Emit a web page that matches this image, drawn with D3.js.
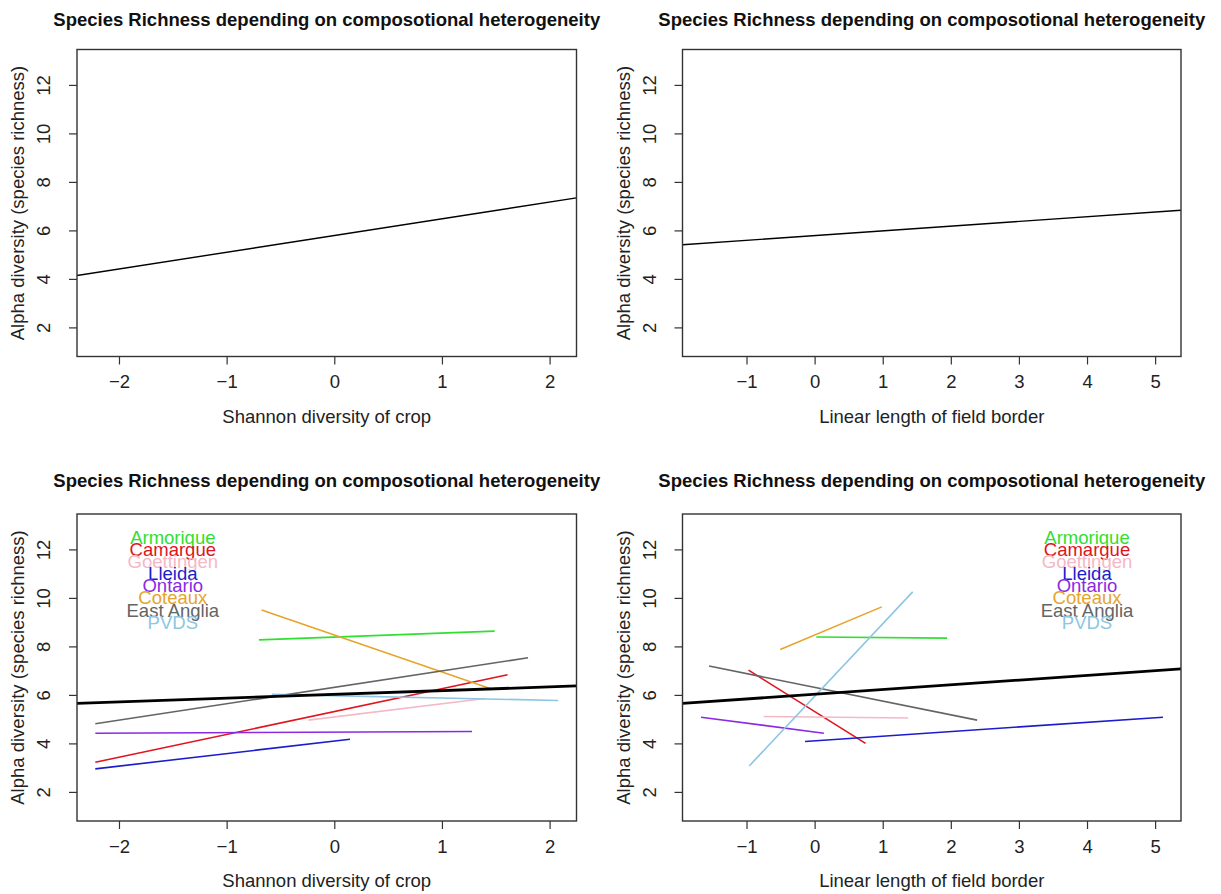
<!DOCTYPE html>
<html>
<head>
<meta charset="utf-8">
<script src="https://cdn.jsdelivr.net/npm/d3@7"></script>
<style>
  html, body { margin: 0; padding: 0; background: #fff; }
  svg { display: block; font-family: "Liberation Sans", Arial, Helvetica, sans-serif; }
</style>
</head>
<body>
<svg id="chart" width="1221" height="894"></svg>
<script>
// ---------------- DATA ----------------
const titleText = "Species Richness depending on composotional heterogeneity";
const yLabel = "Alpha diversity (species richness)";
const cropLabel = "Shannon diversity of crop";
const borderLabel = "Linear length of field border";

const cropTicks = [-2, -1, 0, 1, 2];
const borderTicks = [-1, 0, 1, 2, 3, 4, 5];
const yTicks = [2, 4, 6, 8, 10, 12];

const sites = ["Armorique", "Camargue", "Goettingen", "Lleida", "Ontario", "Coteaux", "East Anglia", "PVDS"];
const siteColors = ["#2fe02f", "#e0141e", "#f5b8c6", "#1c1ccc", "#8a2be2", "#e6a42c", "#646464", "#8cc6e2"];

// top panels: overall fitted line (two end points)
const topCropX = [-2.39, 2.25];
const topCropY = [4.14, 7.34];
const topBorderX = [-1.94, 5.38];
const topBorderY = [5.41, 6.83];

// bottom-left: per-site lines vs Shannon diversity of crop
const cropX0 = [-0.70, -2.22, -0.24, -2.22, -2.22, -0.675, -2.22, -0.58];
const cropX1 = [1.49, 1.61, 1.40, 0.146, 1.28, 1.46, 1.80, 2.08];
const cropY0 = [8.27, 3.22, 4.96, 2.95, 4.42, 9.50, 4.81, 6.02];
const cropY1 = [8.63, 6.83, 5.85, 4.17, 4.49, 6.24, 7.53, 5.77];
const overallCropX = [-2.39, 2.25];
const overallCropY = [5.65, 6.37];

// bottom-right: per-site lines vs linear length of field border
const borderX0 = [0.025, -0.97, -0.75, -0.141, -1.668, -0.505, -1.55, -0.96];
const borderX1 = [1.946, 0.748, 1.375, 5.115, 0.136, 0.986, 2.386, 1.44];
const borderY0 = [8.39, 7.02, 5.11, 4.08, 5.08, 7.87, 7.19, 3.07];
const borderY1 = [8.34, 4.00, 5.05, 5.08, 4.42, 9.63, 4.96, 10.25];
const overallBorderX = [-1.94, 5.38];
const overallBorderY = [5.65, 7.07];

// legend anchor (data coordinates) and value step
const legendCropX = -1.5;
const legendBorderX = 4.0;
const legendTopY = 12.5;
const legendStep = 0.5;

// ---------------- LAYOUT ----------------
const svg = d3.select("#chart");
const FS = 18.5;
const yDomain = [0.80, 13.46];

const panels = [
  { box: [77, 49.5, 576.5, 356.5], titleY: 20, xDomain: [-2.39, 2.25], ticks: cropTicks, xlab: cropLabel,
    main: { x: topCropX, y: topCropY, w: 1.4 } },
  { box: [682.5, 49.5, 1181, 356.5], titleY: 20, xDomain: [-1.94, 5.38], ticks: borderTicks, xlab: borderLabel,
    main: { x: topBorderX, y: topBorderY, w: 1.4 } },
  { box: [77, 514, 576.5, 821], titleY: 481, xDomain: [-2.39, 2.25], ticks: cropTicks, xlab: cropLabel,
    sites: { x0: cropX0, x1: cropX1, y0: cropY0, y1: cropY1 }, legendX: legendCropX,
    main: { x: overallCropX, y: overallCropY, w: 2.8 } },
  { box: [682.5, 514, 1181, 821], titleY: 481, xDomain: [-1.94, 5.38], ticks: borderTicks, xlab: borderLabel,
    sites: { x0: borderX0, x1: borderX1, y0: borderY0, y1: borderY1 }, legendX: legendBorderX,
    main: { x: overallBorderX, y: overallBorderY, w: 2.8 } }
];

const fmt = d => (d < 0 ? "\u2212" + Math.abs(d) : String(d));

panels.forEach((p, i) => {
  const [x0, y0, x1, y1] = p.box;
  const x = d3.scaleLinear().domain(p.xDomain).range([x0, x1]);
  const y = d3.scaleLinear().domain(yDomain).range([y1, y0]);
  const g = svg.append("g");

  // clip
  const cid = "clip" + i;
  svg.append("clipPath").attr("id", cid).append("rect")
    .attr("x", x0).attr("y", y0).attr("width", x1 - x0).attr("height", y1 - y0);

  // title
  g.append("text").attr("x", (x0 + x1) / 2).attr("y", p.titleY).attr("dy", "0.35em")
    .attr("text-anchor", "middle").attr("font-weight", "bold").attr("font-size", FS)
    .attr("fill", "#111").text(titleText);

  // x axis
  const xa = g.append("g").attr("transform", `translate(0,${y1})`)
    .call(d3.axisBottom(x).tickValues(p.ticks).tickSize(8).tickFormat(fmt));
  xa.select(".domain").remove();
  xa.selectAll(".tick line").attr("stroke", "#333").attr("stroke-width", 1.2);
  xa.selectAll(".tick text").attr("y", 25.5).attr("dy", "0.35em")
    .attr("font-size", FS).attr("font-family", "Liberation Sans, Arial, sans-serif").attr("fill", "#222");

  // y axis
  const ya = g.append("g").attr("transform", `translate(${x0},0)`)
    .call(d3.axisLeft(y).tickValues(yTicks).tickSize(8).tickFormat(fmt));
  ya.select(".domain").remove();
  ya.selectAll(".tick line").attr("stroke", "#333").attr("stroke-width", 1.2);
  ya.selectAll(".tick text").attr("x", null).attr("dy", null)
    .attr("transform", "translate(-33,0) rotate(-90)").attr("y", 0).attr("dy", "0.35em")
    .attr("text-anchor", "middle").attr("font-size", FS)
    .attr("font-family", "Liberation Sans, Arial, sans-serif").attr("fill", "#222");

  // axis titles
  g.append("text").attr("x", (x0 + x1) / 2).attr("y", y1 + 60).attr("dy", "0.35em")
    .attr("text-anchor", "middle").attr("font-size", FS).attr("fill", "#222").text(p.xlab);
  g.append("text").attr("transform", `translate(${x0 - 59},${(y0 + y1) / 2}) rotate(-90)`)
    .attr("dy", "0.35em").attr("text-anchor", "middle").attr("font-size", FS)
    .attr("fill", "#222").text(yLabel);

  const plot = g.append("g").attr("clip-path", `url(#${cid})`);

  // site lines
  if (p.sites) {
    sites.forEach((s, k) => {
      plot.append("line")
        .attr("x1", x(p.sites.x0[k])).attr("y1", y(p.sites.y0[k]))
        .attr("x2", x(p.sites.x1[k])).attr("y2", y(p.sites.y1[k]))
        .attr("stroke", siteColors[k]).attr("stroke-width", 1.6);
    });
  }

  // overall line
  plot.append("line")
    .attr("x1", x(p.main.x[0])).attr("y1", y(p.main.y[0]))
    .attr("x2", x(p.main.x[1])).attr("y2", y(p.main.y[1]))
    .attr("stroke", "#000").attr("stroke-width", p.main.w);

  // legend
  if (p.sites) {
    sites.forEach((s, k) => {
      g.append("text").attr("x", x(p.legendX)).attr("y", y(legendTopY - k * legendStep))
        .attr("dy", "0.35em").attr("text-anchor", "middle").attr("font-size", FS)
        .attr("fill", siteColors[k]).text(s);
    });
  }

  // box
  g.append("rect").attr("x", x0).attr("y", y0).attr("width", x1 - x0).attr("height", y1 - y0)
    .attr("fill", "none").attr("stroke", "#333").attr("stroke-width", 1.4);
});
</script>
</body>
</html>
